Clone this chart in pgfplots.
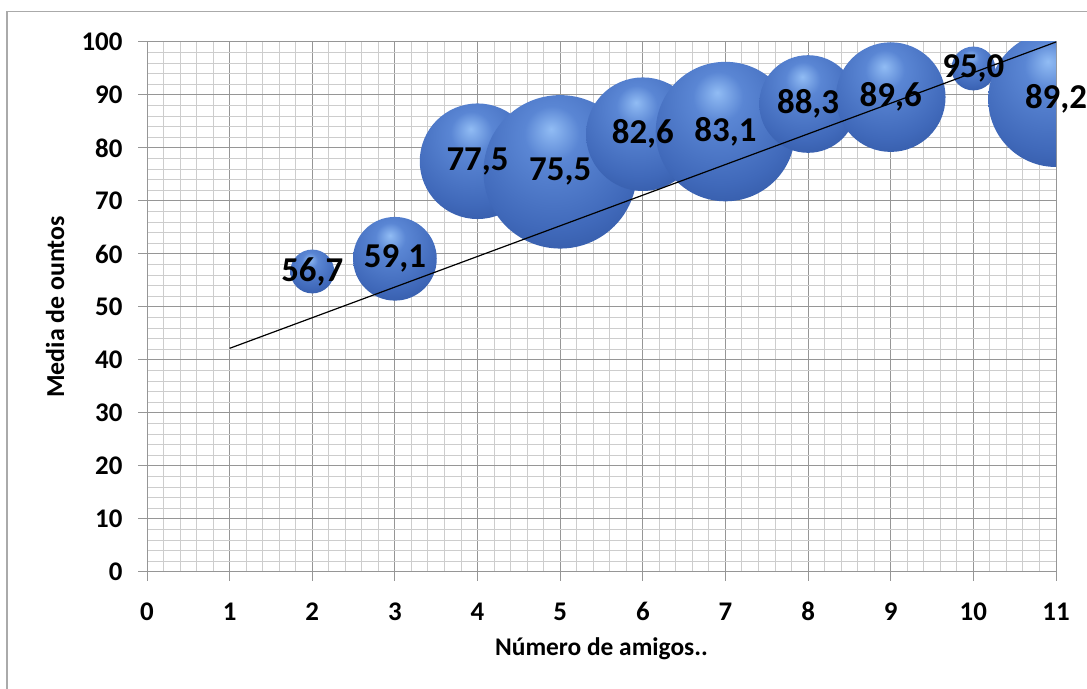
\documentclass[border=0pt]{standalone}
\usepackage{pgfplots}
\pgfplotsset{compat=1.18}
\usepackage{pgfplotstable}
\usepackage{fontspec}
\setmainfont{Carlito}
\definecolor{bhl}{RGB}{145,188,244}
\definecolor{bmid}{RGB}{90,134,212}
\definecolor{bmain}{RGB}{64,105,186}
\definecolor{bdark}{RGB}{40,75,148}
\definecolor{bedge}{RGB}{22,46,98}
\pgfdeclareradialshading{bub}{\pgfpoint{-3bp}{14bp}}{%
  color(0bp)=(bhl); color(9bp)=(bmid); color(28bp)=(bmain);
  color(46bp)=(bdark); color(64bp)=(bedge); color(80bp)=(bedge)}
\pgfdeclareplotmark{bubble}{%
  \pgfpathcircle{\pgfpointorigin}{\pgfplotmarksize}%
  \pgfshadepath{bub}{0}%
  \pgfusepath{discard}%
}
\pgfplotstableread{
x y r lab
2 56.7 22 56,7
3 59.1 42 59,1
4 77.5 58 77,5
5 75.5 77 75,5
6 82.6 57 82,6
7 83.1 70 83,1
8 88.3 49 88,3
9 89.6 55 89,6
10 95.0 22 95,0
11 89.2 68 89,2
}\bubdata
\begin{document}
\begin{tikzpicture}
\useasboundingbox (0bp,0bp) rectangle (1087bp,689bp);
\draw[color={rgb,255:red,170;green,170;blue,170}, line width=1.5bp] (7bp,-5bp) -- (7bp,677.5bp) -- (1095bp,677.5bp);
\begin{axis}[
  at={(147bp,117bp)}, anchor=south west,
  scale only axis, width=909bp, height=530bp,
  xmin=0, xmax=11, ymin=0, ymax=100,
  xtick={0,...,11}, ytick={0,10,...,100},
  minor x tick num=4, minor y tick num=4,
  grid=both,
  major grid style={color={rgb,255:red,150;green,150;blue,150}, line width=1bp},
  minor grid style={color={rgb,255:red,205;green,205;blue,205}, line width=1bp},
  axis line style={color={rgb,255:red,150;green,150;blue,150}, line width=1bp},
  tick align=outside, major tick length=9bp, minor tick length=0pt,
  tick style={color={rgb,255:red,150;green,150;blue,150}, line width=1bp},
  xtick pos=bottom, ytick pos=left,
  xticklabel shift=19bp, yticklabel shift=12bp,
  /pgf/number format/assume math mode=true,
  tick label style={font=\fontsize{27}{29}\selectfont\bfseries},
  xticklabel style={text height=17bp, text depth=0bp},
  xlabel style={font=\fontsize{25.5}{27}\selectfont\bfseries},
  ylabel style={font=\fontsize{26}{28}\selectfont\bfseries},
  xlabel={Número de amigos..},
  ylabel={Media de ountos},
  xlabel style={at={(axis description cs:0.5,-0.145)}, anchor=center},
  ylabel style={at={(axis description cs:-0.101,0.5)}, anchor=center},
  clip marker paths=true,
]
\addplot[scatter, only marks, mark=bubble,
  scatter/use mapped color={draw=none, fill=none},
  point meta=\thisrow{r},
  visualization depends on={\thisrow{r} \as \rad},
  scatter/@pre marker code/.append style={/tikz/mark size=\rad}]
  table[x=x, y=y] {\bubdata};
\addplot[black, line width=1.2bp, mark=none] coordinates {(1,42.2) (11,100)};
\end{axis}
\begin{axis}[
  at={(147bp,117bp)}, anchor=south west,
  scale only axis, width=909bp, height=530bp,
  xmin=0, xmax=11, ymin=0, ymax=100,
  hide axis, clip=false,
]
\addplot[draw=none, mark=none, nodes near coords, point meta=explicit symbolic,
  nodes near coords align=center,
  every node near coord/.append style={font=\fontsize{35}{37}\selectfont\bfseries, text=black, anchor=center, inner sep=0pt}]
  table[x=x, y=y, meta=lab] {\bubdata};
\end{axis}
\end{tikzpicture}
\end{document}
